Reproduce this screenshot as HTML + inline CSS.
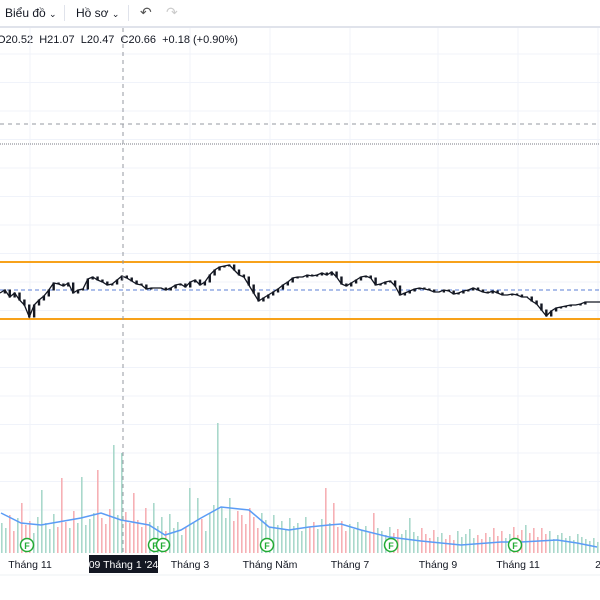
<!DOCTYPE html>
<html><head><meta charset="utf-8">
<style>
html,body{margin:0;padding:0;background:#fff;width:600px;height:600px;overflow:hidden;font-family:"Liberation Sans","Noto Sans CJK JP",sans-serif;}
#toolbar{position:absolute;left:0;top:0;width:600px;height:26px;border-bottom:2px solid #e0e3eb;font-size:12px;color:#131722;}
.tb{position:absolute;top:6px;}
.sep{position:absolute;top:5px;width:1px;height:16px;background:#e0e3eb;}
#legend{position:absolute;left:-3px;top:34px;font-size:11px;color:#131722;white-space:nowrap;}
svg{position:absolute;left:0;top:0;}
</style></head><body>
<div id="toolbar">
  <span class="tb" style="left:5px">Biểu đồ <span style="font-size:9px">⌄</span></span>
  <div class="sep" style="left:64px"></div>
  <span class="tb" style="left:76px">Hồ sơ <span style="font-size:9px">⌄</span></span>
  <div class="sep" style="left:128px"></div>
  <span class="tb" style="left:140px;top:4px;font-size:14px;color:#555">↶</span>
  <span class="tb" style="left:166px;top:4px;font-size:14px;color:#ccc">↷</span>
</div>
<div id="legend">O20.52&nbsp; H21.07&nbsp; L20.47&nbsp; C20.66&nbsp; +0.18 (+0.90%)</div>
<svg id="chart" width="600" height="600"></svg>
<script>
const closes=[23.45,23.60,23.25,23.45,23.10,22.85,22.25,22.85,23.10,23.30,23.60,23.95,23.90,23.80,23.95,23.45,23.60,23.65,24.15,24.25,24.10,24.00,23.85,23.90,24.10,24.30,24.20,24.05,23.90,23.85,23.65,23.70,23.70,23.70,23.60,23.70,23.85,23.90,23.75,24.00,24.10,23.85,24.00,24.35,24.60,24.75,24.80,24.85,24.60,24.35,24.25,23.85,23.45,23.05,23.20,23.35,23.50,23.65,23.85,24.00,24.20,24.25,24.25,24.35,24.30,24.35,24.45,24.35,24.50,24.25,23.90,23.80,23.95,24.10,24.25,24.30,24.20,23.85,23.90,24.00,24.05,23.80,23.35,23.45,23.55,23.65,23.70,23.65,23.60,23.50,23.50,23.60,23.55,23.40,23.45,23.55,23.60,23.70,23.60,23.50,23.45,23.55,23.45,23.35,23.35,23.40,23.35,23.25,23.25,23.05,22.90,22.60,22.30,22.55,22.70,22.75,22.80,22.85,22.85,22.90,23.00,23.00,23.00,23.00];
const volumes=[3.0,2.5,3.8,2.2,3.5,5.0,2.8,3.2,2.0,3.6,6.3,3.0,2.4,3.9,2.6,7.5,3.1,2.5,4.2,3.0,7.6,2.8,3.4,4.0,8.3,3.5,2.9,4.4,10.8,3.8,10.0,4.1,3.0,6.0,3.3,2.6,4.5,3.1,5.0,2.7,3.6,2.2,3.9,2.5,3.1,1.8,2.6,6.5,3.0,5.5,3.4,2.2,4.0,4.8,13.0,4.6,3.5,5.5,3.2,4.2,3.8,2.9,4.5,3.6,2.5,4.0,3.3,2.6,3.8,2.8,3.2,2.4,3.5,2.7,3.0,2.2,3.6,2.6,3.1,2.4,3.4,6.5,3.0,5.0,2.6,3.2,2.2,2.9,2.4,3.1,2.3,2.7,2.0,4.0,2.5,2.2,1.8,2.6,2.0,2.4,1.9,2.3,3.5,2.1,1.7,2.5,1.9,1.5,2.3,1.6,2.0,1.4,1.8,1.3,2.2,1.6,1.9,2.4,1.5,1.8,1.4,2.0,1.6,2.5,1.7,2.2,1.5,1.9,2.6,1.8,2.3,2.8,2.0,2.5,1.6,2.5,1.9,2.2,1.4,1.8,2.0,1.5,1.7,1.3,1.9,1.6,1.4,1.2,1.5,1.1];
const maIdx=[0,5,10,20,25,30,37,41,45,50,55,62,67,72,77,82,85,90,97,105,115,125,130,139,144,149];
const maVals=[4.0,3.0,2.8,3.5,4.0,3.3,2.8,1.8,2.3,3.5,4.6,4.3,2.6,2.3,2.6,2.8,2.9,2.3,1.6,1.2,0.8,1.1,1.1,1.3,1.0,0.6];
const monthLabels=["Tháng 11","Tháng 3","Tháng Năm","Tháng 7","Tháng 9","Tháng 11","2"];
const monthBar=[7,47,67,87,109,129,149];
const levels=[25.0,22.15];
const midLevel=23.6;
const fBars=[6,38,40,66,97,128];

const NS="http://www.w3.org/2000/svg";
const svg=document.getElementById('chart');
function mk(t,a,p){const e=document.createElementNS(NS,t);for(const k in a)e.setAttribute(k,a[k]);(p||svg).appendChild(e);return e;}
const yP=p=>262+(25-p)*20;
const xC=i=>i*600/(closes.length-1);
const xV=i=>i*4+1;
const yV=v=>553-v*10;

// grid
for(let y=510;y>40;y-=28.5){const g=mk('line',{x1:0,x2:600,y1:y,y2:y,stroke:'#f0f3fa','stroke-width':1});

}
monthBar.forEach(b=>{const g=mk('line',{x1:xV(b)+1,x2:xV(b)+1,y1:28,y2:553,stroke:'#f0f3fa','stroke-width':1});

});

// volume bars
volumes.forEach((v,i)=>{
  const ci=Math.min(closes.length-1,Math.round(i*(closes.length-1)/(volumes.length-1)));
  const up=ci===0||closes[ci]>=closes[ci-1];
  const r=mk('rect',{x:xV(i),y:yV(v),width:1.6,height:553-yV(v),fill:up?'#a9d8cb':'#f6b0b5'});
  
  
});
// MA line
const ma=mk('polyline',{points:maIdx.map((b,k)=>xV(b)+','+yV(maVals[k])).join(' '),fill:'none',stroke:'#5b9cf6','stroke-width':1.5});



// reference lines
const l1=mk('line',{x1:0,x2:600,y1:124,y2:124,stroke:'#9598a1','stroke-dasharray':'4 4','stroke-width':1});


const l2=mk('line',{x1:0,x2:600,y1:144,y2:144,stroke:'#787b86','stroke-dasharray':'1 1','stroke-width':1});


levels.forEach(p=>{const o=mk('line',{x1:0,x2:600,y1:yP(p),y2:yP(p),stroke:'#f7a21b','stroke-width':2});

});
const md=mk('line',{x1:0,x2:600,y1:yP(midLevel),y2:yP(midLevel),stroke:'#5b7fd6','stroke-dasharray':'4 3','stroke-width':1});



// price
const pl=mk('polyline',{points:closes.map((c,i)=>xC(i)+','+yP(c)).join(' '),fill:'none',stroke:'#131722','stroke-width':1.3});


closes.forEach((c,i)=>{if(!i)return;const o=closes[i-1];
  const r=mk('rect',{x:xC(i)-1.2,y:Math.min(yP(o),yP(c))-0.5,width:2.4,height:Math.abs(yP(o)-yP(c))+1,fill:'#131722'});
  
  });

// crosshair
const ch=mk('line',{x1:123,x2:123,y1:28,y2:553,stroke:'#9598a1','stroke-dasharray':'4 4','stroke-width':1});



// F markers
fBars.forEach(b=>{const g=mk('g',{});


mk('circle',{cx:xV(b)+2,cy:545,r:6.5,fill:'#fff',stroke:'#22ab34','stroke-width':1.5},g);
const t=mk('text',{x:xV(b)+2,y:549,'text-anchor':'middle','font-size':'9','font-weight':'bold',fill:'#22ab34','font-family':'Liberation Sans'},g);t.textContent='F';});

// x axis
const ax=mk('line',{x1:0,x2:600,y1:575,y2:575,stroke:'#eef0f3','stroke-width':1});


monthLabels.forEach((m,k)=>{const t=mk('text',{x:xV(monthBar[k])+1,y:568,'text-anchor':'middle','font-size':'10.5',fill:'#131722','font-family':'Liberation Sans'});t.textContent=m;

});
const bx=mk('rect',{x:89,y:555,width:69,height:18,fill:'#131722'});


const bt=mk('text',{x:123.5,y:568,'text-anchor':'middle','font-size':'10.5',fill:'#fff','font-family':'Liberation Sans'});bt.textContent="09 Tháng 1 '24";


</script>
</body></html>
